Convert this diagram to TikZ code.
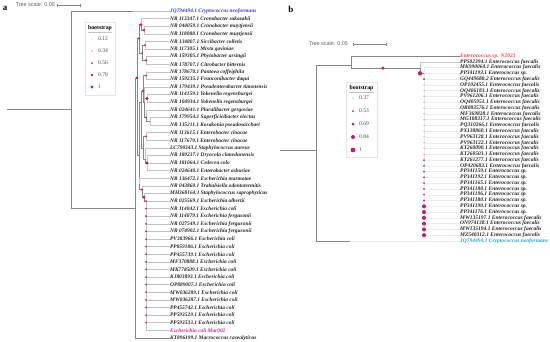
\documentclass[tikz,border=0pt]{standalone}
\usepackage{fontspec}
\setmainfont{Liberation Serif}
\setsansfont{Liberation Sans}
\usetikzlibrary{positioning}
\definecolor{armgray}{RGB}{135,135,135}
\definecolor{tipgray}{RGB}{195,195,195}
\definecolor{bootc}{RGB}{200,24,112}
\definecolor{cryptoA}{RGB}{60,60,235}
\definecolor{cryptoB}{RGB}{40,160,225}
\definecolor{strainA}{RGB}{228,30,140}
\definecolor{strainB}{RGB}{240,75,75}

\begin{document}
\begin{tikzpicture}[x=1pt, y=-1pt,
    taxon/.style={anchor=west, inner sep=0pt, text=black!85, font=\fontsize{5.4}{6}\selectfont\bfseries\itshape},
    taxonb/.style={taxon, font=\fontsize{5.5}{6}\selectfont\bfseries\itshape},
    arm/.style={draw=armgray, line width=0.6pt},
    tipline/.style={draw=tipgray, line width=0.5pt},
    faint/.style={draw=black!8, line width=0.4pt},
    boot/.style={fill=bootc},
    keybox/.style={draw=black!10, line width=0.4pt},
    keytitle/.style={inner sep=0pt, font=\fontsize{5.8}{6}\selectfont\bfseries},
    keyval/.style={anchor=west, inner sep=0pt, text=black!70, font=\fontsize{5.6}{6}\selectfont},
    scaletext/.style={anchor=east, inner sep=0pt, text=black!65, font=\sffamily\fontsize{5.4}{6}\selectfont},
    panel/.style={inner sep=0pt, font=\fontsize{9}{9}\selectfont\bfseries}
  ]
    \useasboundingbox (0,0) rectangle (550,341);
    \node[panel] (pa) at (5,8) {a};
    \node[panel] (pb) at (291,9) {b};

    \node[scaletext] (ascale) at (55,5) {Tree scale: 0.05};
    \draw[arm] ([xshift=2pt]ascale.east) ++(0,-1.5) -- ++(0,3) ++(0,-1.5) -- ++(23,0) ++(0,-1.5) -- ++(0,3);
    \node[scaletext] (bscale) at (348,44) {Tree scale: 0.05};
    \draw[arm] ([xshift=5pt]bscale.east) ++(0,-1.5) -- ++(0,3) ++(0,-1.5) -- ++(33,0) ++(0,-1.5) -- ++(0,3);

    \draw[keybox] (85,22) rectangle (115,95);
    \node[keytitle] (akey) at (100,28) {bootstrap};
    \draw[tipgray] (88,32.5) -- (112,32.5);
    \foreach \v/\r [count=\k] in {0.12/0.4pt, 0.34/0.7pt, 0.56/1.0pt, 0.78/1.3pt, 1/1.6pt} {
      \fill[boot] (92,27+12*\k) circle (\r);
      \node[keyval] (akey\k) at (98,27+12*\k) {\v};
    }
    \draw[keybox] (346,82) rectangle (377,157);
    \node[keytitle] (bkey) at (361.5,88) {bootstrap};
    \draw[tipgray] (349,92.5) -- (374,92.5);
    \foreach \v/\r [count=\k] in {0.37/0.5pt, 0.53/1.0pt, 0.69/1.5pt, 0.84/2.0pt, 1/2.4pt} {
      \fill[boot] (353,85+13*\k) circle (\r);
      \node[keyval] (bkey\k) at (359,85+13*\k) {\v};
    }

    \begin{scope}[yshift=-3.4pt, y=-7.6pt]
      \node[taxon, text=cryptoA] (a1) at (170,1) {JQ794494.1 Cryptococcus neoformans};
      \foreach \i/\name in {2/NR 113347.1 Cronobacter sakazakii, 3/NR 044059.1 Cronobacter muytjensii,
          4/NR 118088.1 Cronobacter muytjensii, 5/NR 134807.1 Siccibacter colletis,
          6/NR 117305.1 Mixta gaviniae, 7/NR 159305.1 Phytobacter ursingii,
          8/NR 178707.1 Citrobacter bitternis, 9/NR 178670.1 Pantoea coffeiphila,
          10/NR 159235.1 Franconibacter daqui, 11/NR 179439.1 Pseudenterobacter timonensis,
          12/NR 114159.1 Yokenella regensburgei, 13/NR 104934.1 Yokenella regensburgei,
          14/NR 024641.1 Pluralibacter gergoviae, 15/NR 179954.1 Superficieibacter electus,
          16/NR 135211.1 Kosakonia pseudosacchari, 17/NR 113615.1 Enterobacter cloacae,
          18/NR 117679.1 Enterobacter cloacae, 19/LC790343.1 Staphylococcus aureus,
          20/NR 189237.1 Dryocola clanedunensis, 21/NR 181064.1 Cedecea colo,
          22/NR 024640.1 Enterobacter asburiae, 23/NR 136472.1 Escherichia marmotae,
          24/NR 043860.1 Trabulsiella odontotermitis, 25/MH368164.1 Staphylococcus saprophyticus,
          26/NR 025569.1 Escherichia albertii, 27/NR 114042.1 Escherichia coli,
          28/NR 114079.1 Escherichia fergusonii, 29/NR 027549.1 Escherichia fergusonii,
          30/NR 074902.1 Escherichia fergusonii, 31/PV383966.1 Escherichia coli,
          32/PP859186.1 Escherichia coli, 33/PP455739.1 Escherichia coli,
          34/MF370888.1 Escherichia coli, 35/MK778509.1 Escherichia coli,
          36/KJ803893.1 Escherichia coli, 37/OP889007.1 Escherichia coli,
          38/MW036289.1 Escherichia coli, 39/MW036287.1 Escherichia coli,
          40/PP455742.1 Escherichia coli, 41/PP593529.1 Escherichia coli,
          42/PP593533.1 Escherichia coli, 44/KT896199.1 Macrococcus caseolyticus}
        \node[taxon] (a\i) at (170,\i) {\name};
      \node[taxon, text=strainA] (a43) at (170,43) {Escherichia coli Mar002};

      \coordinate (aroot) at (7,13.9);
      \coordinate (aR0) at (71,13.9);
      \coordinate (acry) at (133,1);
      \coordinate (aN1) at (135,26.9);
      \coordinate (aN2) at (137,9.8);
      \coordinate (aA) at (139,4.6);
      \coordinate (aCro) at (141,2.8);
      \coordinate (aCro2) at (144,3.5);
      \coordinate (aSic) at (142,6.5);
      \coordinate (aSa) at (145,5.5);
      \coordinate (aSb) at (146,7.5);
      \coordinate (aB) at (139,20);
      \coordinate (aB1) at (141,13);
      \coordinate (aB11) at (143,11.5);
      \coordinate (aP) at (146,9.5);
      \coordinate (aQ) at (144,13);
      \coordinate (aYk) at (147,12.5);
      \coordinate (aR) at (146,15);
      \coordinate (aR2) at (150,15.5);
      \coordinate (aB12) at (143,19);
      \coordinate (aE) at (146,17.5);
      \coordinate (aF) at (145,20.5);
      \coordinate (aF2) at (147,21);
      \coordinate (aB2) at (139,23.8);
      \coordinate (aB21) at (142,24.5);
      \coordinate (aB22) at (144,25.5);
      \coordinate (acomb) at (146,26);

      \draw[arm] (aroot) -- (aR0);
      \draw[tipline] (acry) -- (a1.west);
      \foreach \p/\c in {aR0/acry, aR0/aN1, aN1/aN2, aN2/aA, aN2/aB, aA/aCro, aA/aSic, aCro/aCro2,
          aSic/aSa, aSic/aSb, aB/aB1, aB/aB2, aB1/aB11, aB1/aB12, aB11/aP, aB11/aQ, aQ/aYk,
          aQ/aR, aR/aR2, aB12/aE, aB12/aF, aF/aF2, aB2/aB21, aB21/aB22, aB22/acomb}
        \draw[arm] (\p) |- (\c);
      \draw[arm] (aN1) |- (a44.west);
      \foreach \p/\c in {aCro/2, aCro2/3, aCro2/4, aSa/5, aSa/6, aSb/7, aSb/8, aP/9, aP/10,
          aQ/11, aYk/12, aYk/13, aR/14, aR2/15, aR2/16, aE/17, aE/18, aF/19, aF2/20, aF2/21,
          aF2/22, aB2/23, aB21/24, aB22/25}
        \draw[tipline] (\p) |- (a\c.west);
      \foreach \i in {26,...,43}
        \draw[tipline] (acomb) |- (a\i.west);

      \foreach \n/\r in {aN2/1.6pt, aA/1.3pt, aCro/1.6pt, aCro2/1.3pt, aSic/0.7pt, aSa/1.0pt,
          aSb/1.3pt, aB1/0.4pt, aB11/1.3pt, aP/1.0pt, aYk/1.6pt, aR/1.0pt, aE/1.0pt,
          aF2/1.6pt, aB21/1.3pt, aB22/1.6pt}
        \fill[boot] (\n) circle (\r);
      \foreach \k in {26,...,42}
        \fill[boot] (146,\k) circle (1.0pt);
    \end{scope}

    \begin{scope}[yshift=-50.22pt, y=-5.78pt]
      \node[taxonb, text=strainB] (b1) at (460,1) {Enterococcus sp. N2023};
      \foreach \i/\name in {2/PP502394.1 Enterococcus faecalis, 3/MK990064.1 Enterococcus faecalis,
          4/PP341193.1 Enterococcus sp., 5/GQ449688.2 Enterococcus faecalis,
          6/OP102455.1 Enterococcus faecalis, 7/OQ406183.1 Enterococcus faecalis,
          8/PV961206.1 Enterococcus faecalis, 9/OQ405951.1 Enterococcus faecalis,
          10/OR083576.1 Enterococcus faecalis, 11/MF369828.1 Enterococcus faecalis,
          12/MG188317.1 Enterococcus faecalis, 13/PQ310266.1 Enterococcus faecalis,
          14/PX138860.1 Enterococcus faecalis, 15/PV963128.1 Enterococcus faecalis,
          16/PV963122.1 Enterococcus faecalis, 17/KT260090.1 Enterococcus faecalis,
          18/KT260503.1 Enterococcus faecalis, 19/KT261277.1 Enterococcus faecalis,
          20/OP420683.1 Enterococcus faecalis, 21/PP341159.1 Enterococcus sp.,
          22/PP341192.1 Enterococcus sp., 23/PP341165.1 Enterococcus sp.,
          24/PP341188.1 Enterococcus sp., 25/PP341196.1 Enterococcus sp.,
          26/PP341180.1 Enterococcus sp., 27/PP341190.1 Enterococcus sp.,
          28/PP341176.1 Enterococcus sp., 29/MW135197.1 Enterococcus faecalis,
          30/ON974138.1 Enterococcus faecalis, 31/MW135194.1 Enterococcus faecalis,
          32/MZ540312.1 Enterococcus faecalis}
        \node[taxonb] (b\i) at (460,\i) {\name};
      \node[taxonb, text=cryptoB] (b33) at (460,33) {JQ794494.1 Cryptococcus neoformans};

      \coordinate (broot) at (280,17.3);
      \coordinate (bR) at (316,17.3);
      \coordinate (bT) at (351,2.55);
      \coordinate (bU) at (420,3.1);
      \coordinate (bV) at (424,4);
      \coordinate (bcry) at (350,33);

      \draw[arm] (broot) -- (bR);
      \draw[arm] (bR) |- (bT);
      \draw[arm] (bR) |- (bcry);
      \draw[faint] (bcry) -- (b33.west);
      \draw[arm] (bT) |- (b1.west);
      \draw[arm] (bT) |- (bU);
      \draw[arm] (bU) |- (bV);
      \draw[tipline] (bU) |- (b2.west);
      \draw[tipline] (bV) -- (bV |- b32.west);
      \foreach \i in {3,...,32}
        \draw[faint] (bV) |- (b\i.west);

      \fill[boot] (383,3.1) circle (1.8pt);
      \fill[boot] (420,4) circle (2.2pt);
      \fill[boot] (424,5) circle (1.0pt);
      \foreach \k in {6,...,18}
        \fill[boot] (424,\k) circle (0.5pt);
      \foreach \k in {19,...,26}
        \fill[boot] (424,\k) circle (1.0pt);
      \foreach \k in {27,...,32}
        \fill[boot] (424,\k) circle (2.0pt);
    \end{scope}
  \end{tikzpicture}
\end{document}
